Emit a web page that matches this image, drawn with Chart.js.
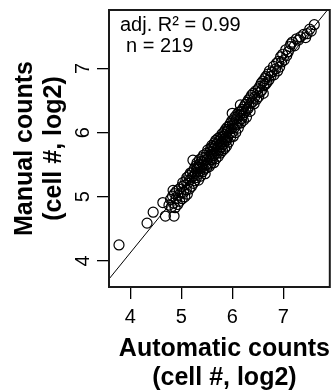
<!DOCTYPE html>
<html>
<head>
<meta charset="utf-8">
<script src="https://cdn.jsdelivr.net/npm/chart.js@4/dist/chart.umd.min.js"></script>
<style>
html,body{margin:0;padding:0;background:#fff;}
canvas{display:block;}
</style>
</head>
<body>
<canvas id="c" width="336" height="391"></canvas>
<script>
// ---- data (log2 cell counts) ----
const autoCounts = [
  3.78,4.33,4.45,4.69,4.86,4.64,
  4.76,4.79,4.81,4.83,4.85,4.87,4.88,4.90,4.91,4.93,4.94,4.96,4.97,4.99,4.84,
  5.01,5.02,5.03,5.05,5.06,5.07,5.09,5.10,5.11,5.12,5.13,5.15,5.16,5.17,5.18,5.20,5.21,5.23,5.22,5.24,5.25,5.26,5.27,5.28,5.29,
  5.30,5.31,5.31,5.32,5.33,5.34,5.35,5.36,5.36,5.37,5.38,5.39,5.40,5.41,5.42,5.43,5.44,5.45,5.46,5.47,5.48,5.49,5.50,5.50,5.51,5.52,5.53,5.54,5.55,5.56,5.57,5.58,5.58,5.59,5.60,
  5.61,5.61,5.62,5.63,5.64,5.64,5.65,5.66,5.67,5.68,5.68,5.69,5.70,5.71,5.72,5.72,5.73,5.74,5.75,5.76,5.76,5.77,5.78,5.79,5.80,5.80,5.81,5.82,5.83,5.84,5.84,5.85,5.86,5.87,5.87,5.88,5.89,5.90,5.90,5.89,
  5.91,5.92,5.93,5.94,5.95,5.96,5.97,5.98,5.99,6.00,6.00,6.01,6.02,6.03,6.04,6.05,6.06,6.07,6.08,6.09,6.10,6.11,6.12,6.13,6.14,6.15,6.16,6.17,6.18,6.19,
  6.20,6.21,6.22,6.23,6.24,6.26,6.27,6.28,6.29,6.31,6.32,6.33,6.35,6.35,6.37,6.38,6.40,6.41,6.43,6.44,6.46,6.48,
  6.50,6.51,6.52,6.54,6.55,6.57,6.58,6.60,6.61,6.62,6.64,6.65,6.66,6.68,6.70,6.72,6.73,6.76,
  6.78,6.81,6.82,6.85,6.87,6.89,6.91,6.93,6.95,6.97,6.99,7.02,7.05,7.07,
  7.10,7.13,7.15,7.18,7.22,7.26,7.30,7.34,
  7.40,7.47,7.52,7.55,7.61,7.44
];
const manualCounts = [
  4.25,4.59,4.76,4.70,4.70,4.91,
  4.87,4.96,4.84,5.01,4.90,5.05,4.83,4.97,5.09,4.88,5.02,5.12,4.93,5.06,5.10,
  5.16,4.97,5.22,5.07,5.18,5.00,5.25,5.11,5.30,5.04,5.21,5.33,5.12,5.26,5.37,5.16,5.30,5.57,5.39,5.21,5.33,5.44,5.25,5.37,5.48,
  5.30,5.43,5.53,5.35,5.46,5.26,5.50,5.39,5.58,5.46,5.32,5.55,5.45,5.61,5.39,5.51,5.65,5.43,5.56,5.36,5.62,5.50,5.68,5.45,5.58,5.73,5.52,5.63,5.47,5.70,5.58,5.76,5.51,5.66,5.80,
  5.58,5.70,5.78,5.64,5.53,5.75,5.84,5.67,5.79,5.59,5.88,5.72,5.82,5.68,5.91,5.77,5.63,5.87,5.73,5.93,5.81,5.68,5.90,5.78,5.98,5.85,5.72,5.94,5.82,6.01,5.89,5.75,5.97,5.86,6.05,5.93,5.79,6.02,6.08,5.88,
  5.92,6.05,5.85,6.10,5.99,6.14,5.93,6.06,6.18,6.30,6.00,6.12,5.94,6.20,6.07,6.24,6.12,6.00,6.21,6.28,6.13,6.26,6.07,6.32,6.18,6.27,6.43,6.15,6.33,6.22,
  6.36,6.27,6.19,6.40,6.31,6.44,6.34,6.24,6.47,6.37,6.51,6.41,6.54,6.33,6.46,6.58,6.48,6.61,6.45,6.55,6.65,6.52,
  6.62,6.68,6.56,6.72,6.63,6.77,6.66,6.80,6.61,6.73,6.84,6.75,6.87,6.78,6.91,6.82,6.96,6.88,
  6.94,7.03,6.90,6.99,7.08,6.96,7.11,7.02,7.18,7.10,7.22,7.13,7.29,7.20,
  7.26,7.34,7.38,7.41,7.35,7.46,7.44,7.49,
  7.53,7.54,7.61,7.58,7.68,7.48
];
const fitIntercept = 0.214;
const fitSlope = 0.978;
const xTickValues = [4, 5, 6, 7];
const yTickValues = [4, 5, 6, 7];
const xRange = [3.584, 7.914];
const yRange = [3.595, 7.909];
const statLines = ['adj. R\u00B2 = 0.99', 'n = 219'];
const xTitle = ['Automatic counts', '(cell #, log2)'];
const yTitle = ['Manual counts', '(cell #, log2)'];

// ---- build ----
const FONT = '"Liberation Sans", Arial, Helvetica, sans-serif';
const points = autoCounts.map((x, i) => ({x: x, y: manualCounts[i]}));
const fitLine = xRange.map(x => ({x: x, y: fitIntercept + fitSlope * x}));

const decor = {
  id: 'decor',
  afterDraw(chart) {
    const {ctx, chartArea: a} = chart;
    ctx.save();
    ctx.strokeStyle = '#1a1a1a';
    ctx.lineWidth = 2;
    ctx.strokeRect(a.left, a.top, a.right - a.left, a.bottom - a.top);
    ctx.fillStyle = '#000';
    ctx.font = '20px ' + FONT;
    ctx.textAlign = 'left';
    ctx.textBaseline = 'alphabetic';
    ctx.fillText(statLines[0], a.left + 11, a.top + 21);
    ctx.fillText(statLines[1], a.left + 17, a.top + 42);
    ctx.font = 'bold 25px ' + FONT;
    ctx.textAlign = 'center';
    const cx = (a.left + a.right) / 2 + 5;
    ctx.fillText(xTitle[0], cx, 356);
    ctx.fillText(xTitle[1], cx, 385);
    ctx.translate(0, (a.top + a.bottom) / 2);
    ctx.rotate(-Math.PI / 2);
    ctx.fillText(yTitle[0], 0, 31.5);
    ctx.fillText(yTitle[1], 0, 61);
    ctx.restore();
  }
};

new Chart(document.getElementById('c'), {
  type: 'scatter',
  data: {
    datasets: [
      {
        data: points,
        pointStyle: 'circle',
        pointRadius: 5,
        pointBorderWidth: 1.2,
        pointBorderColor: '#000',
        pointBackgroundColor: 'rgba(0,0,0,0)',
        showLine: false
      },
      {
        type: 'line',
        data: fitLine,
        borderColor: '#000',
        borderWidth: 1,
        pointRadius: 0,
        fill: false
      }
    ]
  },
  options: {
    responsive: false,
    devicePixelRatio: 1,
    animation: false,
    events: [],
    layout: {padding: {top: 10, right: 1, left: 0, bottom: 0}},
    plugins: {legend: {display: false}, tooltip: {enabled: false}},
    scales: {
      x: {
        type: 'linear',
        min: xRange[0], max: xRange[1],
        afterBuildTicks: s => { s.ticks = xTickValues.map(v => ({value: v})); },
        afterFit: s => { s.height = 104; s.paddingLeft = 0; s.paddingRight = 0; },
        border: {display: false},
        grid: {drawOnChartArea: false, drawTicks: true, tickLength: 12, color: '#000', lineWidth: 1.3},
        ticks: {autoSkip: false, padding: 6, color: '#000', font: {family: FONT, size: 20}, maxRotation: 0}
      },
      y: {
        type: 'linear',
        min: yRange[0], max: yRange[1],
        afterBuildTicks: s => { s.ticks = yTickValues.map(v => ({value: v})); },
        afterFit: s => { s.width = 109; s.paddingTop = 0; s.paddingBottom = 0; },
        border: {display: false},
        grid: {drawOnChartArea: false, drawTicks: true, tickLength: 12, color: '#000', lineWidth: 1.3},
        ticks: {autoSkip: false, padding: 8, crossAlign: 'center', minRotation: 90, maxRotation: 90, color: '#000', font: {family: FONT, size: 20}}
      }
    }
  },
  plugins: [decor]
});
</script>
</body>
</html>
